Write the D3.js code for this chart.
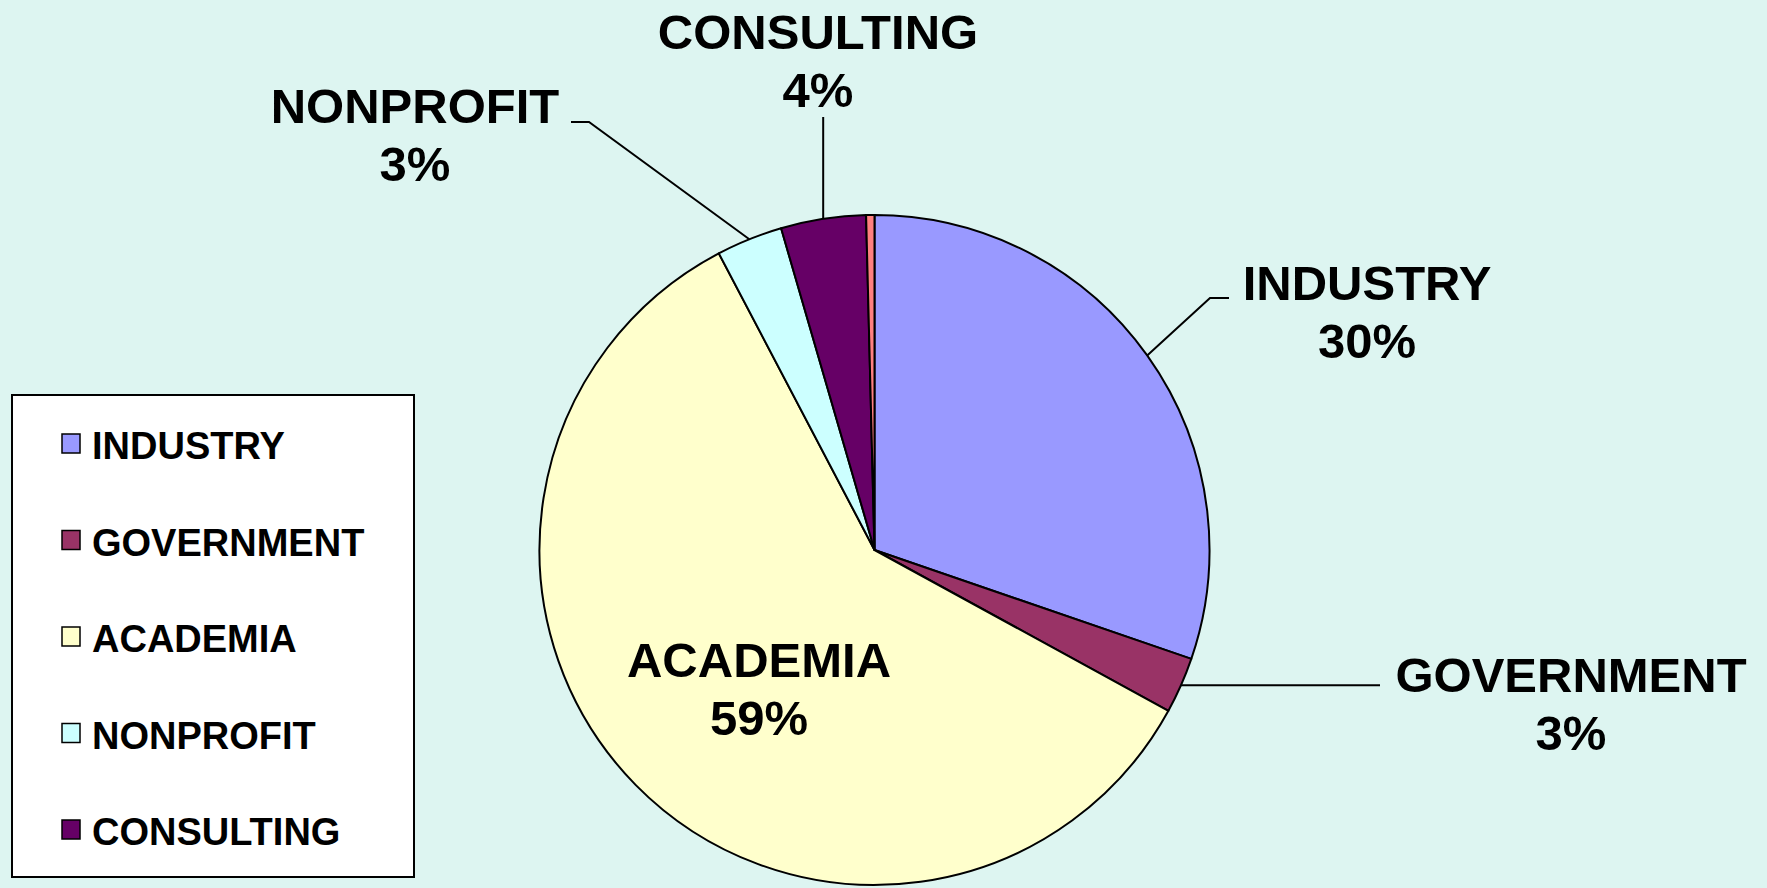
<!DOCTYPE html>
<html lang="en">
    <head>
        <title>Employment sector pie</title>
        <script src="https://d3js.org/d3.v7.min.js"></script>
        <style>
            body { margin: 0; background: #ddf5f1; }
            text { font-family: "Liberation Sans", Arial, sans-serif; font-weight: bold; fill: #000; }
        </style>
    </head>
<body>
    <div id="chart"></div>
    <script type="text/javascript">

var w = 1767;
var h = 888;

// data (percent of total), clockwise from 12 o'clock
var categories = ["INDUSTRY", "GOVERNMENT", "ACADEMIA", "NONPROFIT", "CONSULTING", "OTHER"];
var values = [30.3, 2.7, 59.4, 3.2, 4.1, 0.4];
var colors = ["#9999ff", "#993366", "#ffffcc", "#ccffff", "#660066", "#ff8080"];
var legendItems = ["INDUSTRY", "GOVERNMENT", "ACADEMIA", "NONPROFIT", "CONSULTING"];

var cx = 874.5, cy = 550, radius = 335;

// label placement (x, baseline y) and leader elbow for each labelled slice
var labelLayout = {
    "INDUSTRY":   {x: 1367, y: 300, leader: [[1210, 298], [1229, 298]]},
    "GOVERNMENT": {x: 1571, y: 692, leader: [[1380, 688]], horiz: true},
    "ACADEMIA":   {x: 759,  y: 677, leader: null},
    "NONPROFIT":  {x: 415,  y: 123, leader: [[589, 122], [571, 122]]},
    "CONSULTING": {x: 818,  y: 49,  leader: [[822, 117]], vert: true}
};

var svg = d3.select("#chart")
    .append("svg")
    .attr("width", w)
    .attr("height", h);

svg.append("rect")
    .attr("width", w)
    .attr("height", h)
    .attr("fill", "#ddf5f1");

var total = d3.sum(values);
var data = categories.map(function(c, i){ return {name: c, value: values[i], color: colors[i]}; });

var pie = d3.pie()
    .sort(null)
    .value(function(d){ return d.value; });

var arc = d3.arc()
    .innerRadius(0)
    .outerRadius(radius);

var arcs = pie(data);

var g = svg.append("g")
    .attr("transform", "translate(" + cx + "," + cy + ")");

g.selectAll("path")
    .data(arcs)
    .enter()
    .append("path")
    .attr("d", arc)
    .attr("fill", function(d){ return d.data.color; })
    .attr("stroke", "#000")
    .attr("stroke-width", 2)
    .attr("stroke-linejoin", "round");

// leader lines start at the mid point of each slice's outer edge
var pctFormat = function(v){ return Math.round(v / total * 100) + "%"; };

arcs.forEach(function(a){
    var lay = labelLayout[a.data.name];
    if (!lay) return;
    var mid = (a.startAngle + a.endAngle) / 2;
    var px = cx + radius * Math.sin(mid);
    var py = cy - radius * Math.cos(mid);
    if (lay.leader) {
        var pts = [[px, py]];
        lay.leader.forEach(function(p, i){
            if (lay.horiz) pts.push([p[0], py]);
            else if (lay.vert) pts.push([px, p[1]]);
            else pts.push(p);
        });
        svg.append("path")
            .attr("d", d3.line()(pts))
            .attr("fill", "none")
            .attr("stroke", "#000")
            .attr("stroke-width", 2);
    }
    var t = svg.append("text")
        .attr("x", lay.x)
        .attr("y", lay.y)
        .style("font-size", "49px")
        .style("text-anchor", "middle");
    t.append("tspan")
        .attr("x", lay.x)
        .text(a.data.name);
    t.append("tspan")
        .attr("x", lay.x)
        .attr("dy", 58)
        .text(pctFormat(a.data.value));
});

// legend
var legend = svg.append("g");
legend.append("rect")
    .attr("x", 12)
    .attr("y", 395)
    .attr("width", 402)
    .attr("height", 482)
    .attr("fill", "#fff")
    .attr("stroke", "#000")
    .attr("stroke-width", 2);

var legendY = d3.scalePoint()
    .domain(legendItems)
    .range([459, 845]);

var rows = legend.selectAll("g.row")
    .data(legendItems)
    .enter()
    .append("g")
    .attr("class", "row")
    .attr("transform", function(d){ return "translate(0," + legendY(d) + ")"; });

rows.append("rect")
    .attr("x", 62)
    .attr("y", -25)
    .attr("width", 18)
    .attr("height", 19)
    .attr("fill", function(d){ return colors[categories.indexOf(d)]; })
    .attr("stroke", "#000")
    .attr("stroke-width", 1.5);

rows.append("text")
    .attr("x", 92)
    .attr("y", 0)
    .style("font-size", "38px")
    .text(function(d){ return d; });

    </script>
</body>
</html>
